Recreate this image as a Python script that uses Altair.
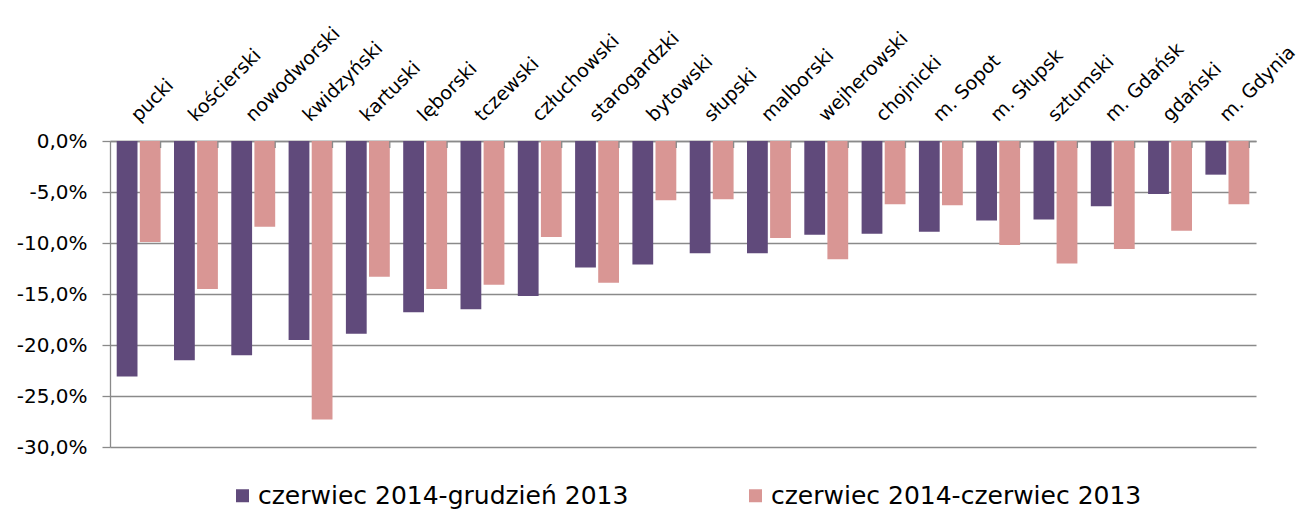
import altair as alt
import pandas as pd

categories = ["pucki", "kościerski", "nowodworski", "kwidzyński", "kartuski",
              "lęborski", "tczewski", "człuchowski", "starogardzki", "bytowski",
              "słupski", "malborski", "wejherowski", "chojnicki", "m. Sopot",
              "m. Słupsk", "sztumski", "m. Gdańsk", "gdański", "m. Gdynia"]

series_names = ["czerwiec 2014-grudzień 2013", "czerwiec 2014-czerwiec 2013"]

dec2013 = [-23.1, -21.5, -21.0, -19.5, -18.9, -16.8, -16.5, -15.2, -12.4, -12.1,
           -11.0, -11.0, -9.2, -9.1, -8.9, -7.8, -7.7, -6.4, -5.2, -3.3]
jun2013 = [-9.9, -14.5, -8.4, -27.3, -13.3, -14.5, -14.1, -9.4, -13.9, -5.8,
           -5.7, -9.5, -11.6, -6.2, -6.3, -10.2, -12.0, -10.6, -8.8, -6.2]

colors = ["#604A7B", "#D99694"]
y_ticks = [0, -5, -10, -15, -20, -25, -30]

rows = []
for i, c in enumerate(categories):
    rows.append({"kat": c, "seria": series_names[0], "wartosc": dec2013[i]})
    rows.append({"kat": c, "seria": series_names[1], "wartosc": jun2013[i]})
df = pd.DataFrame(rows)
df_cat = pd.DataFrame({"kat": categories})

FONT = "DejaVu Sans"
GRAY = "#8a8a8a"

x_scale = alt.Scale(paddingInner=0.234, paddingOuter=0.117)

bars = alt.Chart(df).mark_bar().encode(
    x=alt.X("kat:N", sort=categories, scale=x_scale, title=None,
            axis=alt.Axis(orient="top", labelAngle=-45, labelAlign="left",
                          labelBaseline="alphabetic", labelPadding=19,
                          ticks=False, domain=True, domainColor=GRAY,
                          domainWidth=1.3, labelFont=FONT, labelFontSize=19,
                          labelColor="#000000", labelOverlap=False)),
    xOffset=alt.XOffset("seria:N", sort=series_names,
                        scale=alt.Scale(paddingInner=0.1, paddingOuter=0)),
    y=alt.Y("wartosc:Q", scale=alt.Scale(domain=[-30, 0], nice=False), title=None,
            axis=alt.Axis(values=y_ticks, grid=True, gridColor=GRAY, gridWidth=1.3,
                          domainColor=GRAY, domainWidth=1.3, tickColor=GRAY,
                          tickSize=8, tickWidth=1.3, labelPadding=15,
                          labelFont=FONT, labelFontSize=20, labelColor="#000000",
                          labelExpr="(datum.value < 0 ? '-' : '') + replace(format(abs(datum.value), '.1f'), '.', ',') + '%'")),
    color=alt.Color("seria:N", sort=series_names,
                    scale=alt.Scale(domain=series_names, range=colors),
                    legend=alt.Legend(title=None, orient="none", direction="horizontal",
                                      legendX=120, legendY=342, symbolType="square",
                                      symbolSize=169, symbolStrokeWidth=0,
                                      labelFont=FONT, labelFontSize=25,
                                      labelColor="#000000", labelOffset=3,
                                      columnPadding=114, padding=0,
                                      labelLimit=600)),
)

ticks = alt.Chart(df_cat).mark_rule(color=GRAY, strokeWidth=1.3).encode(
    x=alt.X("kat:N", sort=categories, bandPosition=1),
    y=alt.value(0),
    y2=alt.value(7),
)

chart = alt.layer(bars, ticks).properties(
    width=1146, height=306,
    autosize=alt.AutoSizeParams(type="none"),
    padding={"left": 102, "top": 133, "right": 45, "bottom": 63},
).configure_view(stroke=None)

chart.save("out.html", embed_options={"renderer": "svg", "actions": False})
